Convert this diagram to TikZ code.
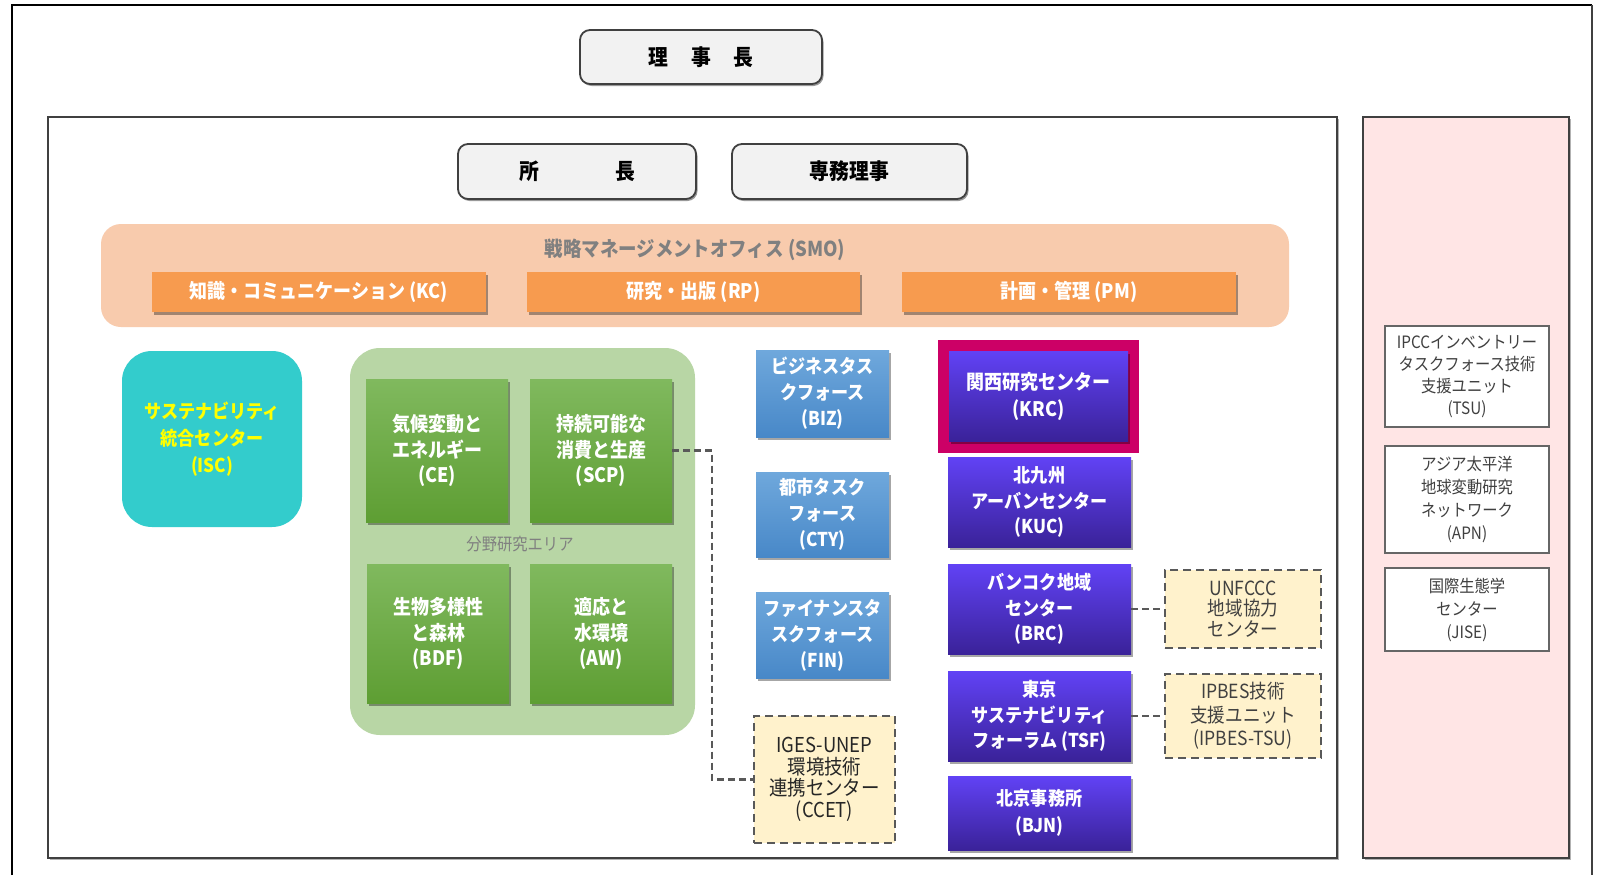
\documentclass[tikz,border=0pt]{standalone}
\usepackage{fontspec}
\setmainfont{Noto Sans CJK JP}[FakeStretch=0.9]
\usetikzlibrary{shadows}
\definecolor{cframe}{HTML}{404040}
\definecolor{ctop}{HTML}{F2F2F2}
\definecolor{csmo}{HTML}{F8CBAD}
\definecolor{corange}{HTML}{F79B4F}
\definecolor{ccyan}{HTML}{33CCCC}
\definecolor{cgreenbg}{HTML}{B8D6A5}
\definecolor{cgreenA}{HTML}{80B95E}
\definecolor{cgreenB}{HTML}{5E9E33}
\definecolor{cblueA}{HTML}{6FA8DC}
\definecolor{cblueB}{HTML}{4888C8}
\definecolor{cpurA}{HTML}{6142F5}
\definecolor{cpurB}{HTML}{3A2299}
\definecolor{cmag}{HTML}{CC0066}
\definecolor{cdash}{HTML}{FFF2CC}
\definecolor{cdashline}{HTML}{595959}
\definecolor{cpink}{HTML}{FFE5E5}
\definecolor{cgraytxt}{HTML}{808080}
\definecolor{cdark}{HTML}{404040}
\definecolor{cyel}{HTML}{FFFF00}
\tikzset{
  shd/.style={drop shadow={shadow xshift=2pt,shadow yshift=-3pt,opacity=0.35,fill=black}},
  topbox/.style={draw=cframe,line width=1.8pt,fill=ctop,rounded corners=10pt,inner sep=0pt,
     font=\fontsize{22}{26}\selectfont\bfseries,drop shadow={shadow xshift=1.5pt,shadow yshift=-2pt,opacity=0.4,fill=black}},
  orangebox/.style={fill=corange,draw=none,text=white,inner sep=0pt,shd,
     font=\fontsize{20}{24}\selectfont\bfseries},
  greenbox/.style={top color=cgreenA,bottom color=cgreenB,draw=none,text=white,inner sep=0pt,shd,
     align=center,font=\fontsize{20}{25.5}\selectfont\bfseries},
  bluebox/.style={top color=cblueA,bottom color=cblueB,draw=none,text=white,inner sep=0pt,shd,
     align=center,font=\fontsize{19}{26}\selectfont\bfseries},
  purbox/.style={top color=cpurA,bottom color=cpurB,draw=none,text=white,inner sep=0pt,shd,
     align=center,font=\fontsize{19}{25.5}\selectfont\bfseries},
  dashbox/.style={fill=cdash,draw=cdashline,line width=2.4pt,dash pattern=on 8pt off 5pt,inner sep=0pt,
     align=center},
  rightbox/.style={fill=white,draw=cframe!80,line width=1.4pt,inner sep=0pt,align=center,text=cdark,
     font=\fontsize{17}{23}\selectfont},
  conn/.style={draw=cdashline,line width=2.2pt,dash pattern=on 7pt off 4pt},
}
\begin{document}
\begin{tikzpicture}[x=1pt,y=-1pt]
\useasboundingbox (0,0) rectangle (1600,875);
% outer frame (open at the bottom)
\draw[line width=2.5pt,black] (12,875) -- (12,5) -- (1592,5);
\draw[line width=1.5pt,cframe] (1592,5) -- (1592,875);
% inner frames
\draw[line width=1.8pt,cframe,fill=white,drop shadow={shadow xshift=1.5pt,shadow yshift=-2pt,opacity=0.3,fill=black}] (48,117) rectangle (1337,858);
\draw[line width=1.8pt,cframe,fill=cpink,drop shadow={shadow xshift=1.5pt,shadow yshift=-2pt,opacity=0.3,fill=black}] (1363,117) rectangle (1569,858);

% top boxes
\node[topbox,minimum width=242pt,minimum height=54pt] (rijicho) at (701,57) {理\hspace{23pt}事\hspace{23pt}長};
\node[topbox,minimum width=238pt,minimum height=55pt] (shocho) at (577,171.5) {所\hspace{76pt}長};
\node[topbox,minimum width=235pt,minimum height=55pt] (senmu) at (849.5,171.5) {専務理事};

% SMO
\node[fill=csmo,draw=none,rounded corners=20pt,minimum width=1188pt,minimum height=103pt,inner sep=0pt] (smo) at (695,275.5) {};
\node[text=cgraytxt,font=\fontsize{20.5}{24}\selectfont\bfseries,inner sep=0pt] (smotitle) at (695,250) {戦略マネージメントオフィス (SMO)};
\node[orangebox,minimum width=334pt,minimum height=40pt] (kc) at (319,292) {知識・コミュニケーション (KC)};
\node[orangebox,minimum width=333pt,minimum height=40pt] (rp) at (693.5,292) {研究・出版 (RP)};
\node[orangebox,minimum width=334pt,minimum height=40pt] (pm) at (1069,292) {計画・管理 (PM)};

% ISC
\node[fill=ccyan,draw=none,rounded corners=30pt,minimum width=180pt,minimum height=176pt,inner sep=0pt,
      text=cyel,align=center,font=\fontsize{19}{27}\selectfont\bfseries] (isc) at (212,439) {サステナビリティ\\統合センター\\(ISC)};

% research areas
\node[fill=cgreenbg,draw=none,rounded corners=30pt,minimum width=345pt,minimum height=387pt,inner sep=0pt] (area) at (522.5,541.5) {};
\node[greenbox,minimum width=142pt,minimum height=143pt] (ce) at (437,450.5) {気候変動と\\エネルギー\\(CE)};
\node[greenbox,minimum width=142pt,minimum height=143pt] (scp) at (601,450.5) {持続可能な\\消費と生産\\(SCP)};
\node[text=cgraytxt,font=\fontsize{17}{20}\selectfont,inner sep=0pt] (arealabel) at (520,544) {分野研究エリア};
\node[greenbox,minimum width=142pt,minimum height=139pt] (bdf) at (438,633.5) {生物多様性\\と森林\\(BDF)};
\node[greenbox,minimum width=142pt,minimum height=139pt] (aw) at (601,633.5) {適応と\\水環境\\(AW)};

% task forces
\node[bluebox,minimum width=133pt,minimum height=87pt] (biz) at (822.5,393.5) {ビジネスタス\\クフォース\\(BIZ)};
\node[bluebox,minimum width=133pt,minimum height=85pt] (cty) at (822.5,514.5) {都市タスク\\フォース\\(CTY)};
\node[bluebox,minimum width=133pt,minimum height=86pt] (fin) at (822.5,635) {ファイナンスタ\\スクフォース\\(FIN)};
\node[dashbox,minimum width=141pt,minimum height=127pt,text=black!85,font=\fontsize{20.5}{21.5}\selectfont] (ccet) at (824.5,779.5) {IGES-UNEP\\環境技術\\連携センター\\(CCET)};

% regional centres
\node[fill=cmag,draw=none,minimum width=201pt,minimum height=113pt,inner sep=0pt] (krcframe) at (1038.5,396.5) {};
\node[purbox,minimum width=179pt,minimum height=90pt,font=\fontsize{20}{27}\selectfont\bfseries] (krc) at (1038.5,396) {関西研究センター\\(KRC)};
\node[purbox,minimum width=183pt,minimum height=90pt] (kuc) at (1039.5,502) {北九州\\アーバンセンター\\(KUC)};
\node[purbox,minimum width=183pt,minimum height=90pt] (brc) at (1039.5,609) {バンコク地域\\センター\\(BRC)};
\node[purbox,minimum width=183pt,minimum height=90pt] (tsf) at (1039.5,716) {東京\\サステナビリティ\\フォーラム (TSF)};
\node[purbox,minimum width=183pt,minimum height=74pt,font=\fontsize{19}{27}\selectfont\bfseries] (bjn) at (1039.5,813) {北京事務所\\(BJN)};

\node[dashbox,minimum width=156pt,minimum height=78pt,text=cdark,font=\fontsize{19.5}{20.5}\selectfont] (unfccc) at (1243,609) {UNFCCC\\地域協力\\センター};
\node[dashbox,minimum width=156pt,minimum height=84pt,text=cdark,font=\fontsize{19.5}{23.5}\selectfont] (ipbes) at (1243,716) {IPBES技術\\支援ユニット\\(IPBES-TSU)};

% right column
\node[rightbox,minimum width=164pt,minimum height=101pt,font=\fontsize{17}{22}\selectfont] (tsu) at (1467,376.5) {IPCCインベントリー\\タスクフォース技術\\支援ユニット\\(TSU)};
\node[rightbox,minimum width=164pt,minimum height=107pt] (apn) at (1467,499.5) {アジア太平洋\\地球変動研究\\ネットワーク\\(APN)};
\node[rightbox,minimum width=164pt,minimum height=83pt] (jise) at (1467,609.5) {国際生態学\\センター\\(JISE)};

% connectors
\draw[conn] (scp.east) -- ++(40,0) |- (ccet.west);
\draw[conn] (brc.east) -- (unfccc.west);
\draw[conn] (tsf.east) -- (ipbes.west);
\end{tikzpicture}
\end{document}
